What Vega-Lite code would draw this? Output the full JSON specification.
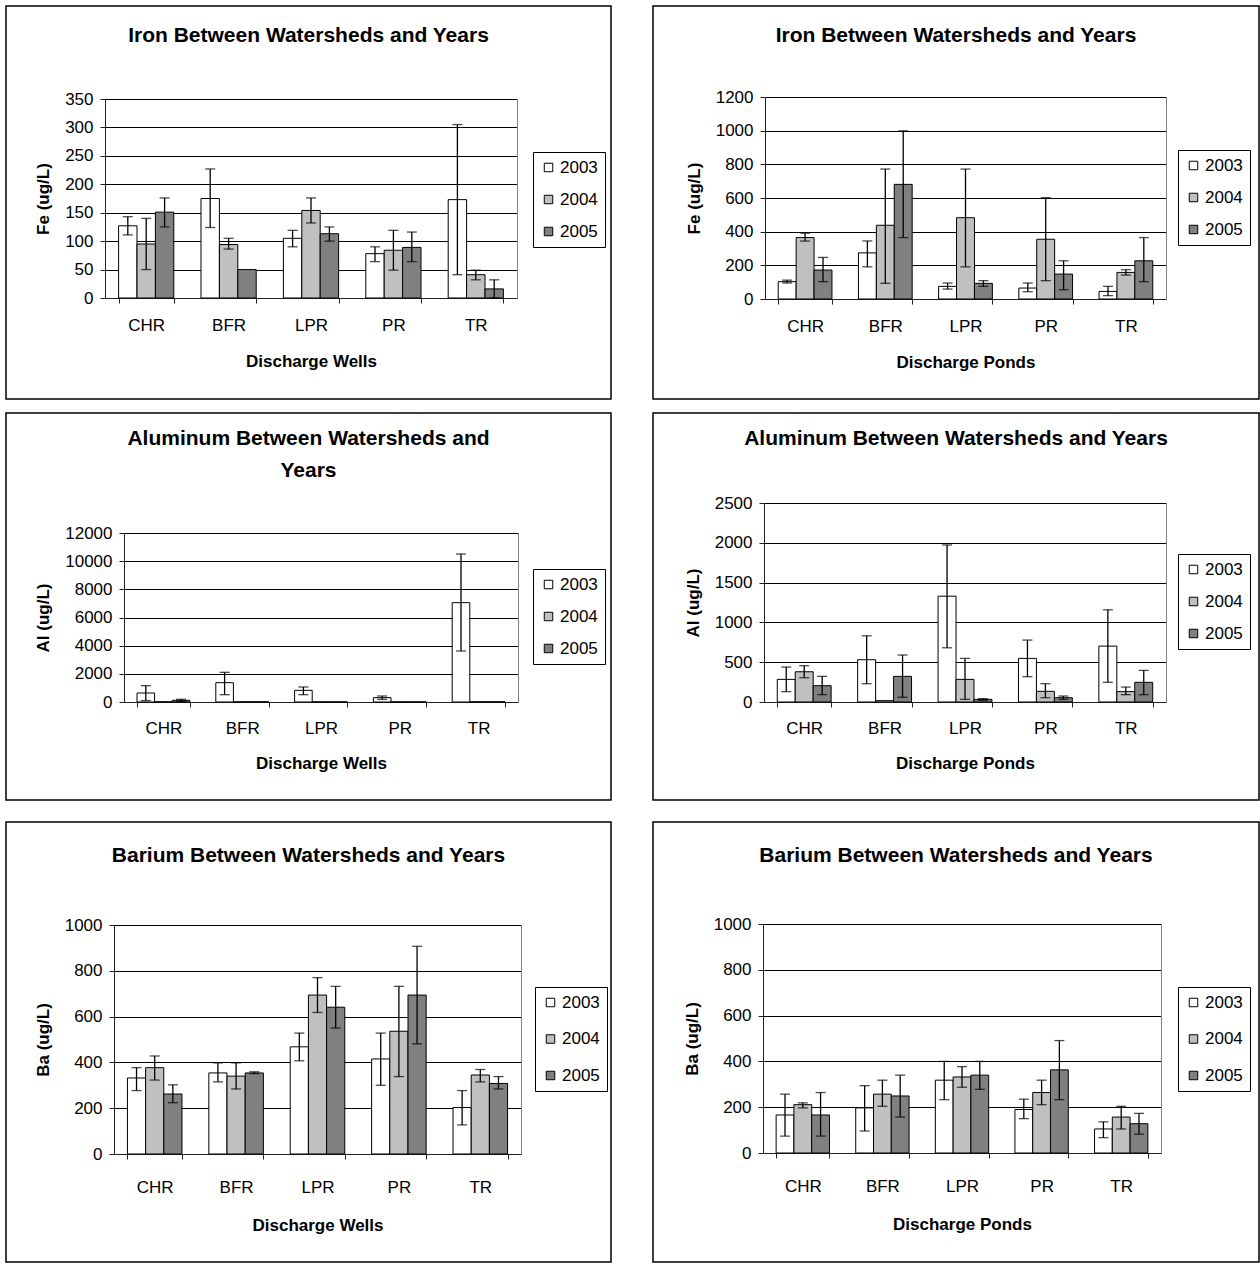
{
  "$schema": "https://vega.github.io/schema/vega-lite/v6.json",
  "padding": {"left": 5, "top": 5, "right": 0, "bottom": 0},
  "autosize": {"type": "pad"},
  "background": "white",
  "datasets": {
    "fe_wells": [
      {"site": "CHR", "year": "2003", "value": 127, "lo": 111, "hi": 143},
      {"site": "CHR", "year": "2004", "value": 95, "lo": 50, "hi": 140},
      {"site": "CHR", "year": "2005", "value": 151, "lo": 125, "hi": 176},
      {"site": "BFR", "year": "2003", "value": 175, "lo": 124, "hi": 227},
      {"site": "BFR", "year": "2004", "value": 94, "lo": 86, "hi": 105},
      {"site": "BFR", "year": "2005", "value": 50, "lo": null, "hi": null},
      {"site": "LPR", "year": "2003", "value": 105, "lo": 90, "hi": 119},
      {"site": "LPR", "year": "2004", "value": 154, "lo": 132, "hi": 176},
      {"site": "LPR", "year": "2005", "value": 113, "lo": 100, "hi": 125},
      {"site": "PR", "year": "2003", "value": 78, "lo": 64, "hi": 90},
      {"site": "PR", "year": "2004", "value": 84, "lo": 49, "hi": 119},
      {"site": "PR", "year": "2005", "value": 89, "lo": 64, "hi": 116},
      {"site": "TR", "year": "2003", "value": 173, "lo": 41, "hi": 305},
      {"site": "TR", "year": "2004", "value": 41, "lo": 32, "hi": 49},
      {"site": "TR", "year": "2005", "value": 16, "lo": 0, "hi": 32}
    ],
    "fe_ponds": [
      {"site": "CHR", "year": "2003", "value": 103, "lo": 95, "hi": 112},
      {"site": "CHR", "year": "2004", "value": 365, "lo": 344, "hi": 391},
      {"site": "CHR", "year": "2005", "value": 172, "lo": 103, "hi": 247},
      {"site": "BFR", "year": "2003", "value": 274, "lo": 191, "hi": 345},
      {"site": "BFR", "year": "2004", "value": 438, "lo": 93, "hi": 772},
      {"site": "BFR", "year": "2005", "value": 681, "lo": 365, "hi": 999},
      {"site": "LPR", "year": "2003", "value": 75, "lo": 59, "hi": 95},
      {"site": "LPR", "year": "2004", "value": 483, "lo": 191, "hi": 772},
      {"site": "LPR", "year": "2005", "value": 93, "lo": 75, "hi": 109},
      {"site": "PR", "year": "2003", "value": 65, "lo": 43, "hi": 95},
      {"site": "PR", "year": "2004", "value": 355, "lo": 109, "hi": 602},
      {"site": "PR", "year": "2005", "value": 148, "lo": 55, "hi": 227},
      {"site": "TR", "year": "2003", "value": 45, "lo": 20, "hi": 75},
      {"site": "TR", "year": "2004", "value": 158, "lo": 142, "hi": 174},
      {"site": "TR", "year": "2005", "value": 227, "lo": 103, "hi": 365}
    ],
    "al_wells": [
      {"site": "CHR", "year": "2003", "value": 640, "lo": 100, "hi": 1160},
      {"site": "CHR", "year": "2004", "value": 15, "lo": null, "hi": null},
      {"site": "CHR", "year": "2005", "value": 120, "lo": 50, "hi": 190},
      {"site": "BFR", "year": "2003", "value": 1373, "lo": 520, "hi": 2107},
      {"site": "BFR", "year": "2004", "value": 15, "lo": null, "hi": null},
      {"site": "BFR", "year": "2005", "value": 15, "lo": null, "hi": null},
      {"site": "LPR", "year": "2003", "value": 828, "lo": 520, "hi": 1065},
      {"site": "LPR", "year": "2004", "value": 10, "lo": null, "hi": null},
      {"site": "LPR", "year": "2005", "value": 10, "lo": null, "hi": null},
      {"site": "PR", "year": "2003", "value": 308, "lo": 190, "hi": 426},
      {"site": "PR", "year": "2004", "value": 10, "lo": null, "hi": null},
      {"site": "PR", "year": "2005", "value": 10, "lo": null, "hi": null},
      {"site": "TR", "year": "2003", "value": 7053, "lo": 3621, "hi": 10509},
      {"site": "TR", "year": "2004", "value": 15, "lo": null, "hi": null},
      {"site": "TR", "year": "2005", "value": 15, "lo": null, "hi": null}
    ],
    "al_ponds": [
      {"site": "CHR", "year": "2003", "value": 284, "lo": 130, "hi": 439},
      {"site": "CHR", "year": "2004", "value": 380, "lo": 305, "hi": 456},
      {"site": "CHR", "year": "2005", "value": 205, "lo": 92, "hi": 322},
      {"site": "BFR", "year": "2003", "value": 531, "lo": 230, "hi": 832},
      {"site": "BFR", "year": "2004", "value": 17, "lo": null, "hi": null},
      {"site": "BFR", "year": "2005", "value": 322, "lo": 59, "hi": 590},
      {"site": "LPR", "year": "2003", "value": 1329, "lo": 681, "hi": 1973},
      {"site": "LPR", "year": "2004", "value": 284, "lo": 33, "hi": 548},
      {"site": "LPR", "year": "2005", "value": 33, "lo": 21, "hi": 42},
      {"site": "PR", "year": "2003", "value": 548, "lo": 318, "hi": 778},
      {"site": "PR", "year": "2004", "value": 134, "lo": 54, "hi": 230},
      {"site": "PR", "year": "2005", "value": 54, "lo": 33, "hi": 75},
      {"site": "TR", "year": "2003", "value": 702, "lo": 247, "hi": 1158},
      {"site": "TR", "year": "2004", "value": 130, "lo": 92, "hi": 188},
      {"site": "TR", "year": "2005", "value": 247, "lo": 92, "hi": 397}
    ],
    "ba_wells": [
      {"site": "CHR", "year": "2003", "value": 332, "lo": 277, "hi": 377},
      {"site": "CHR", "year": "2004", "value": 377, "lo": 323, "hi": 428},
      {"site": "CHR", "year": "2005", "value": 262, "lo": 224, "hi": 302},
      {"site": "BFR", "year": "2003", "value": 354, "lo": 315, "hi": 398},
      {"site": "BFR", "year": "2004", "value": 340, "lo": 284, "hi": 398},
      {"site": "BFR", "year": "2005", "value": 354, "lo": 351, "hi": 359},
      {"site": "LPR", "year": "2003", "value": 468, "lo": 407, "hi": 528},
      {"site": "LPR", "year": "2004", "value": 694, "lo": 618, "hi": 770},
      {"site": "LPR", "year": "2005", "value": 641, "lo": 550, "hi": 732},
      {"site": "PR", "year": "2003", "value": 415, "lo": 300, "hi": 528},
      {"site": "PR", "year": "2004", "value": 536, "lo": 338, "hi": 732},
      {"site": "PR", "year": "2005", "value": 694, "lo": 481, "hi": 907},
      {"site": "TR", "year": "2003", "value": 203, "lo": 127, "hi": 277},
      {"site": "TR", "year": "2004", "value": 345, "lo": 315, "hi": 369},
      {"site": "TR", "year": "2005", "value": 308, "lo": 284, "hi": 338}
    ],
    "ba_ponds": [
      {"site": "CHR", "year": "2003", "value": 166, "lo": 74, "hi": 257},
      {"site": "CHR", "year": "2004", "value": 211, "lo": 197, "hi": 219},
      {"site": "CHR", "year": "2005", "value": 166, "lo": 74, "hi": 264},
      {"site": "BFR", "year": "2003", "value": 197, "lo": 96, "hi": 294},
      {"site": "BFR", "year": "2004", "value": 257, "lo": 204, "hi": 318},
      {"site": "BFR", "year": "2005", "value": 249, "lo": 157, "hi": 340},
      {"site": "LPR", "year": "2003", "value": 318, "lo": 233, "hi": 400},
      {"site": "LPR", "year": "2004", "value": 332, "lo": 287, "hi": 377},
      {"site": "LPR", "year": "2005", "value": 340, "lo": 278, "hi": 400},
      {"site": "PR", "year": "2003", "value": 190, "lo": 150, "hi": 235},
      {"site": "PR", "year": "2004", "value": 264, "lo": 211, "hi": 318},
      {"site": "PR", "year": "2005", "value": 363, "lo": 233, "hi": 491},
      {"site": "TR", "year": "2003", "value": 105, "lo": 67, "hi": 136},
      {"site": "TR", "year": "2004", "value": 157, "lo": 105, "hi": 204},
      {"site": "TR", "year": "2005", "value": 128, "lo": 82, "hi": 173}
    ]
  },
  "config": {
    "font": "Liberation Sans",
    "view": {"stroke": "black", "strokeWidth": 1.5, "fill": "white"},
    "axis": {
      "labelFont": "Liberation Sans", "labelFontSize": 17, "labelColor": "black",
      "titleFont": "Liberation Sans", "titleFontSize": 17, "titleFontWeight": "bold", "titleColor": "black",
      "domainColor": "#222222", "tickColor": "#222222", "tickSize": 5, "domainWidth": 1, "tickWidth": 1,
      "gridColor": "black", "gridWidth": 1, "gridOpacity": 1
    },
    "axisX": {"labelAngle": 0, "tickBand": "extent", "labelPadding": 14, "titlePadding": 20, "grid": false},
    "axisY": {"labelPadding": 7, "titlePadding": 12},
    "legend": {
      "labelFont": "Liberation Sans", "labelFontSize": 17, "labelColor": "black",
      "symbolType": "square", "symbolSize": 72, "symbolStrokeColor": "black", "symbolStrokeWidth": 1,
      "strokeColor": "black", "fillColor": "white", "padding": 7, "rowPadding": 14, "labelOffset": 3
    },
    "title": {"font": "Liberation Sans", "fontSize": 21, "fontWeight": "bold", "color": "black", "anchor": "middle", "frame": "group"}
  },
  "spacing": 12,
  "resolve": {"scale": {"x": "independent", "y": "independent", "xOffset": "independent", "fill": "independent"}, "legend": {"fill": "independent"}},
  "vconcat": [
    {
      "hconcat": [
        {
          "width": 605, "height": 393,
          "title": {"text": "Iron Between Watersheds and Years", "offset": -40},
          "data": {"name": "fe_wells"},
          "encoding": {
            "x": {"field": "site", "type": "nominal", "sort": ["CHR", "BFR", "LPR", "PR", "TR"],
                  "scale": {"range": [99, 511], "paddingInner": 0.33, "paddingOuter": 0.165},
                  "axis": {"title": "Discharge Wells", "offset": -101}},
            "xOffset": {"field": "year", "type": "nominal", "sort": ["2003", "2004", "2005"]}
          },
          "layer": [
            {"mark": {"type": "bar", "stroke": "black", "strokeWidth": 1},
             "encoding": {
               "y": {"field": "value", "type": "quantitative",
                     "scale": {"domain": [0, 350], "range": [292, 93], "nice": false, "zero": true},
                     "axis": {"title": "Fe (ug/L)", "values": [0, 50, 100, 150, 200, 250, 300, 350], "format": "d", "offset": -99, "grid": true}},
               "fill": {"field": "year", "type": "nominal",
                        "scale": {"domain": ["2003", "2004", "2005"], "range": ["#ffffff", "#c0c0c0", "#808080"]},
                        "legend": {"title": null, "orient": "none", "legendX": 527, "legendY": 146}}
             }},
            {"mark": {"type": "rule", "color": "black", "strokeWidth": 1.3},
             "encoding": {
               "y": {"field": "lo", "type": "quantitative",
                     "axis": {"orient": "right", "offset": -94, "labels": false, "ticks": false, "grid": false, "title": null, "domainColor": "#808080"}},
               "y2": {"field": "hi"}
             }},
            {"mark": {"type": "tick", "color": "black", "size": 10, "thickness": 1.3},
             "encoding": {"y": {"field": "lo", "type": "quantitative", "axis": null}}},
            {"mark": {"type": "tick", "color": "black", "size": 10, "thickness": 1.3},
             "encoding": {"y": {"field": "hi", "type": "quantitative", "axis": null}}}
          ],
          "resolve": {"axis": {"y": "independent"}}
        },
        {
          "width": 606, "height": 393,
          "title": {"text": "Iron Between Watersheds and Years", "offset": -40},
          "data": {"name": "fe_ponds"},
          "encoding": {
            "x": {"field": "site", "type": "nominal", "sort": ["CHR", "BFR", "LPR", "PR", "TR"],
                  "scale": {"range": [112, 513], "paddingInner": 0.33, "paddingOuter": 0.165},
                  "axis": {"title": "Discharge Ponds", "offset": -100}},
            "xOffset": {"field": "year", "type": "nominal", "sort": ["2003", "2004", "2005"]}
          },
          "layer": [
            {"mark": {"type": "bar", "stroke": "black", "strokeWidth": 1},
             "encoding": {
               "y": {"field": "value", "type": "quantitative",
                     "scale": {"domain": [0, 1200], "range": [293, 91], "nice": false, "zero": true},
                     "axis": {"title": "Fe (ug/L)", "values": [0, 200, 400, 600, 800, 1000, 1200], "format": "d", "offset": -112, "grid": true}},
               "fill": {"field": "year", "type": "nominal",
                        "scale": {"domain": ["2003", "2004", "2005"], "range": ["#ffffff", "#c0c0c0", "#808080"]},
                        "legend": {"title": null, "orient": "none", "legendX": 525, "legendY": 144}}
             }},
            {"mark": {"type": "rule", "color": "black", "strokeWidth": 1.3},
             "encoding": {
               "y": {"field": "lo", "type": "quantitative",
                     "axis": {"orient": "right", "offset": -93, "labels": false, "ticks": false, "grid": false, "title": null, "domainColor": "#808080"}},
               "y2": {"field": "hi"}
             }},
            {"mark": {"type": "tick", "color": "black", "size": 10, "thickness": 1.3},
             "encoding": {"y": {"field": "lo", "type": "quantitative", "axis": null}}},
            {"mark": {"type": "tick", "color": "black", "size": 10, "thickness": 1.3},
             "encoding": {"y": {"field": "hi", "type": "quantitative", "axis": null}}}
          ],
          "resolve": {"axis": {"y": "independent"}}
        }
      ],
      "spacing": 40,
      "resolve": {"scale": {"x": "independent", "y": "independent", "xOffset": "independent", "fill": "independent"}, "legend": {"fill": "independent"}}
    },
    {
      "spacing": 20,
      "resolve": {"scale": {"x": "independent", "y": "independent", "xOffset": "independent", "fill": "independent"}, "legend": {"fill": "independent"}},
      "vconcat": [
        {
          "hconcat": [
            {
              "width": 605, "height": 387,
              "title": {"text": ["Aluminum Between Watersheds and", "Years"], "lineHeight": 32, "offset": -68},
              "data": {"name": "al_wells"},
              "encoding": {
                "x": {"field": "site", "type": "nominal", "sort": ["CHR", "BFR", "LPR", "PR", "TR"],
                      "scale": {"range": [118, 512], "paddingInner": 0.33, "paddingOuter": 0.165},
                      "axis": {"title": "Discharge Wells", "offset": -98, "labelPadding": 13, "titlePadding": 19}},
                "xOffset": {"field": "year", "type": "nominal", "sort": ["2003", "2004", "2005"]}
              },
              "layer": [
                {"mark": {"type": "bar", "stroke": "black", "strokeWidth": 1},
                 "encoding": {
                   "y": {"field": "value", "type": "quantitative",
                         "scale": {"domain": [0, 12000], "range": [289, 120], "nice": false, "zero": true},
                         "axis": {"title": "Al (ug/L)", "values": [0, 2000, 4000, 6000, 8000, 10000, 12000], "format": "d", "offset": -118, "grid": true}},
                   "fill": {"field": "year", "type": "nominal",
                            "scale": {"domain": ["2003", "2004", "2005"], "range": ["#ffffff", "#c0c0c0", "#808080"]},
                            "legend": {"title": null, "orient": "none", "legendX": 527, "legendY": 156}}
                 }},
                {"mark": {"type": "rule", "color": "black", "strokeWidth": 1.3},
                 "encoding": {
                   "y": {"field": "lo", "type": "quantitative",
                         "axis": {"orient": "right", "offset": -93, "labels": false, "ticks": false, "grid": false, "title": null, "domainColor": "#808080"}},
                   "y2": {"field": "hi"}
                 }},
                {"mark": {"type": "tick", "color": "black", "size": 10, "thickness": 1.3},
                 "encoding": {"y": {"field": "lo", "type": "quantitative", "axis": null}}},
                {"mark": {"type": "tick", "color": "black", "size": 10, "thickness": 1.3},
                 "encoding": {"y": {"field": "hi", "type": "quantitative", "axis": null}}}
              ],
              "resolve": {"axis": {"y": "independent"}}
            },
            {
              "width": 606, "height": 387,
              "title": {"text": "Aluminum Between Watersheds and Years", "offset": -36},
              "data": {"name": "al_ponds"},
              "encoding": {
                "x": {"field": "site", "type": "nominal", "sort": ["CHR", "BFR", "LPR", "PR", "TR"],
                      "scale": {"range": [111, 513], "paddingInner": 0.33, "paddingOuter": 0.165},
                      "axis": {"title": "Discharge Ponds", "offset": -98, "labelPadding": 13, "titlePadding": 19}},
                "xOffset": {"field": "year", "type": "nominal", "sort": ["2003", "2004", "2005"]}
              },
              "layer": [
                {"mark": {"type": "bar", "stroke": "black", "strokeWidth": 1},
                 "encoding": {
                   "y": {"field": "value", "type": "quantitative",
                         "scale": {"domain": [0, 2500], "range": [289, 90], "nice": false, "zero": true},
                         "axis": {"title": "Al (ug/L)", "values": [0, 500, 1000, 1500, 2000, 2500], "format": "d", "offset": -111, "grid": true}},
                   "fill": {"field": "year", "type": "nominal",
                            "scale": {"domain": ["2003", "2004", "2005"], "range": ["#ffffff", "#c0c0c0", "#808080"]},
                            "legend": {"title": null, "orient": "none", "legendX": 525, "legendY": 141}}
                 }},
                {"mark": {"type": "rule", "color": "black", "strokeWidth": 1.3},
                 "encoding": {
                   "y": {"field": "lo", "type": "quantitative",
                         "axis": {"orient": "right", "offset": -93, "labels": false, "ticks": false, "grid": false, "title": null, "domainColor": "#808080"}},
                   "y2": {"field": "hi"}
                 }},
                {"mark": {"type": "tick", "color": "black", "size": 10, "thickness": 1.3},
                 "encoding": {"y": {"field": "lo", "type": "quantitative", "axis": null}}},
                {"mark": {"type": "tick", "color": "black", "size": 10, "thickness": 1.3},
                 "encoding": {"y": {"field": "hi", "type": "quantitative", "axis": null}}}
              ],
              "resolve": {"axis": {"y": "independent"}}
            }
          ],
          "spacing": 40,
          "resolve": {"scale": {"x": "independent", "y": "independent", "xOffset": "independent", "fill": "independent"}, "legend": {"fill": "independent"}}
        },
        {
          "hconcat": [
            {
              "width": 605, "height": 440,
              "title": {"text": "Barium Between Watersheds and Years", "offset": -44},
              "data": {"name": "ba_wells"},
              "encoding": {
                "x": {"field": "site", "type": "nominal", "sort": ["CHR", "BFR", "LPR", "PR", "TR"],
                      "scale": {"range": [108, 515], "paddingInner": 0.33, "paddingOuter": 0.165},
                      "axis": {"title": "Discharge Wells", "offset": -108, "labelPadding": 20, "titlePadding": 22}},
                "xOffset": {"field": "year", "type": "nominal", "sort": ["2003", "2004", "2005"]}
              },
              "layer": [
                {"mark": {"type": "bar", "stroke": "black", "strokeWidth": 1},
                 "encoding": {
                   "y": {"field": "value", "type": "quantitative",
                         "scale": {"domain": [0, 1000], "range": [332, 103], "nice": false, "zero": true},
                         "axis": {"title": "Ba  (ug/L)", "values": [0, 200, 400, 600, 800, 1000], "format": "d", "offset": -108, "grid": true}},
                   "fill": {"field": "year", "type": "nominal",
                            "scale": {"domain": ["2003", "2004", "2005"], "range": ["#ffffff", "#c0c0c0", "#808080"]},
                            "legend": {"title": null, "orient": "none", "legendX": 529, "legendY": 165, "rowPadding": 18.5}}
                 }},
                {"mark": {"type": "rule", "color": "black", "strokeWidth": 1.3},
                 "encoding": {
                   "y": {"field": "lo", "type": "quantitative",
                         "axis": {"orient": "right", "offset": -90, "labels": false, "ticks": false, "grid": false, "title": null, "domainColor": "#808080"}},
                   "y2": {"field": "hi"}
                 }},
                {"mark": {"type": "tick", "color": "black", "size": 10, "thickness": 1.3},
                 "encoding": {"y": {"field": "lo", "type": "quantitative", "axis": null}}},
                {"mark": {"type": "tick", "color": "black", "size": 10, "thickness": 1.3},
                 "encoding": {"y": {"field": "hi", "type": "quantitative", "axis": null}}}
              ],
              "resolve": {"axis": {"y": "independent"}}
            },
            {
              "width": 606, "height": 440,
              "title": {"text": "Barium Between Watersheds and Years", "offset": -44},
              "data": {"name": "ba_ponds"},
              "encoding": {
                "x": {"field": "site", "type": "nominal", "sort": ["CHR", "BFR", "LPR", "PR", "TR"],
                      "scale": {"range": [110, 508], "paddingInner": 0.33, "paddingOuter": 0.165},
                      "axis": {"title": "Discharge Ponds", "offset": -109, "labelPadding": 20, "titlePadding": 22}},
                "xOffset": {"field": "year", "type": "nominal", "sort": ["2003", "2004", "2005"]}
              },
              "layer": [
                {"mark": {"type": "bar", "stroke": "black", "strokeWidth": 1},
                 "encoding": {
                   "y": {"field": "value", "type": "quantitative",
                         "scale": {"domain": [0, 1000], "range": [331, 102], "nice": false, "zero": true},
                         "axis": {"title": "Ba  (ug/L)", "values": [0, 200, 400, 600, 800, 1000], "format": "d", "offset": -110, "grid": true}},
                   "fill": {"field": "year", "type": "nominal",
                            "scale": {"domain": ["2003", "2004", "2005"], "range": ["#ffffff", "#c0c0c0", "#808080"]},
                            "legend": {"title": null, "orient": "none", "legendX": 525, "legendY": 165, "rowPadding": 18.5}}
                 }},
                {"mark": {"type": "rule", "color": "black", "strokeWidth": 1.3},
                 "encoding": {
                   "y": {"field": "lo", "type": "quantitative",
                         "axis": {"orient": "right", "offset": -98, "labels": false, "ticks": false, "grid": false, "title": null, "domainColor": "#808080"}},
                   "y2": {"field": "hi"}
                 }},
                {"mark": {"type": "tick", "color": "black", "size": 10, "thickness": 1.3},
                 "encoding": {"y": {"field": "lo", "type": "quantitative", "axis": null}}},
                {"mark": {"type": "tick", "color": "black", "size": 10, "thickness": 1.3},
                 "encoding": {"y": {"field": "hi", "type": "quantitative", "axis": null}}}
              ],
              "resolve": {"axis": {"y": "independent"}}
            }
          ],
          "spacing": 40,
          "resolve": {"scale": {"x": "independent", "y": "independent", "xOffset": "independent", "fill": "independent"}, "legend": {"fill": "independent"}}
        }
      ]
    }
  ]
}
